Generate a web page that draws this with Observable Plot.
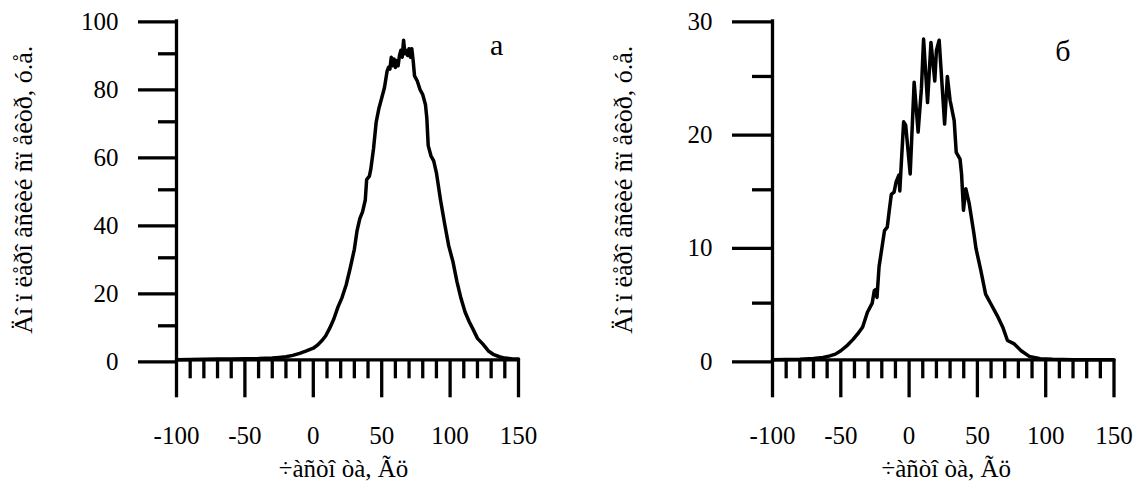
<!DOCTYPE html>
<html>
<head>
<meta charset="utf-8">
<script src="https://cdn.jsdelivr.net/npm/d3@7"></script>
<script src="https://cdn.jsdelivr.net/npm/@observablehq/plot@0.6"></script>
<style>
  html, body { margin: 0; padding: 0; background: #fff; }
  #wrap { display: flex; width: 1142px; height: 491px; }
  #wrap svg [aria-label$="axis tick"] { stroke-width: 3.3px; }
</style>
</head>
<body>
<div id="wrap"></div>
<script>
// ---- data ----
const xTicksMajor = [-100, -50, 0, 50, 100, 150];
const xTicksMinor = [-90, -80, -70, -60, -40, -30, -20, -10, 10, 20, 30, 40, 60, 70, 80, 90, 110, 120, 130, 140];

const yTitle = "Äî ï ëåðî âñêèé ñï åêòð, ó.å.";
const xTitle = "÷àñòî òà, Ãö";

// panel а
const aYMajor = [0, 20, 40, 60, 80, 100];
const aYMinor = [10, 30, 50, 70, 90];
const aX = [-100, -90, -80, -70, -60, -50, -40, -30, -25, -20, -15, -10, -5, 0, 3, 6, 9, 12, 15, 18, 21, 24, 27, 30, 32, 34, 36, 38, 39, 41, 42, 44, 46, 48, 50, 52, 54, 55, 56, 57, 58, 59, 60, 61, 62, 63, 64, 65, 66, 67, 68, 69, 70, 71, 72, 73, 74, 76, 78, 80, 82, 83, 84, 86, 88, 90, 93, 96, 99, 102, 105, 108, 111, 114, 117, 120, 124, 128, 132, 136, 140, 145, 150];
const aY = [0.0, 0.1, 0.15, 0.2, 0.25, 0.3, 0.35, 0.5, 0.7, 0.9, 1.3, 1.9, 2.6, 3.4, 4.3, 5.5, 7, 9.3, 12, 15.5, 18.3, 22, 27, 32.5, 38, 41.5, 43.5, 47, 53, 54, 56, 62, 70, 74, 77, 80, 85, 86, 85.5, 89, 86.5, 88.5, 86, 88, 86.5, 89.5, 91, 89, 94, 90, 91, 89.5, 91.5, 89, 91.5, 88, 83.5, 82, 79.5, 78, 75, 71, 63, 60, 58.5, 55, 47, 40, 33.5, 29, 23, 18, 14, 11.2, 8.8, 6.3, 4.6, 2.6, 1.5, 0.9, 0.5, 0.3, 0.2];
const aLetter = [{x: 134, y: 92.5, t: "а"}];

// panel б
const bYMajor = [0, 10, 20, 30];
const bYMinor = [5, 15, 25];
const bX = [-100, -90, -80, -70, -63, -58, -54, -50, -45, -41, -37.5, -34, -30.5, -27, -25.5, -24.5, -23.5, -22, -19.5, -18, -16, -14.5, -13, -11, -9.5, -7.5, -6.8, -6, -4, -2.5, 0.8, 3.7, 6.6, 9, 10.6, 13.5, 16, 18.8, 20, 22, 26, 28, 30, 33, 34.5, 37.3, 38.4, 39.8, 41.5, 44, 47.5, 49, 52.5, 56, 60, 64.5, 68.5, 72, 77, 82, 88, 96, 105, 120, 150];
const bY = [0, 0.02, 0.05, 0.12, 0.2, 0.35, 0.5, 0.8, 1.3, 1.8, 2.3, 2.9, 4.2, 5.0, 6.1, 6.2, 5.5, 8.2, 10.2, 11.4, 11.7, 13.2, 14.6, 14.8, 15.7, 16.3, 14.9, 16.7, 21, 20.7, 16.4, 24.5, 20.1, 23.9, 28.3, 22.7, 28, 24.6, 27.3, 28.2, 20.8, 25, 22.9, 21.1, 18.3, 17.7, 16.4, 13.2, 15.1, 13.8, 11.1, 9.8, 7.9, 5.8, 4.9, 3.9, 2.9, 1.7, 1.4, 0.8, 0.3, 0.1, 0.04, 0.01, 0];
const bLetter = [{x: 112.5, y: 27.2, t: "б"}];

// ---- chart ----
const FONT = "'Liberation Serif', 'Times New Roman', serif";
const fmt = d => String(d);

function panel({xs, ys, yMax, yMajor, yMinor, majorSize, minorSize, letter, marginLeft, marginRight, yTitleDx, xTitleDx}) {
  const rows = xs.map((x, i) => ({x, y: ys[i]}));
  return Plot.plot({
    width: 571,
    height: 491,
    marginLeft,
    marginRight,
    marginTop: 19.3,
    marginBottom: 131.7,
    style: {fontFamily: FONT, fontSize: "25px", color: "#000", background: "#fff", overflow: "visible"},
    x: {domain: [-100, 150]},
    y: {domain: [0, yMax]},
    marks: [
      Plot.axisX(xTicksMajor, {tickSize: 38, tickPadding: 28, strokeWidth: 3.3, label: null, fontSize: 25, fill: "#000", tickFormat: fmt}),
      Plot.axisX(xTicksMinor, {tickSize: 19, tickFormat: () => "", strokeWidth: 3.3, label: null}),
      Plot.axisY(yMajor, {tickSize: majorSize, tickPadding: 20, strokeWidth: 3.3, label: null, fontSize: 25, dy: 2, fill: "#000", tickFormat: fmt}),
      Plot.axisY(yMinor, {tickSize: minorSize, tickFormat: () => "", strokeWidth: 3.3, label: null}),
      Plot.ruleY([0], {strokeWidth: 3.3, stroke: "#000"}),
      Plot.ruleX([-100], {strokeWidth: 3.3, stroke: "#000"}),
      Plot.line(rows, {x: "x", y: "y", stroke: "#000", strokeWidth: 3.5, strokeLinejoin: "round"}),
      Plot.text(letter, {x: "x", y: "y", text: "t", fontSize: 30, fill: "#000"}),
      Plot.text([yTitle], {frameAnchor: "left", textAnchor: "middle", dx: yTitleDx, rotate: -90, fontSize: 26, fill: "#000"}),
      Plot.text([xTitle], {frameAnchor: "bottom", textAnchor: "middle", dx: xTitleDx, dy: 117, fontSize: 25, fill: "#000"})
    ]
  });
}

const wrap = document.getElementById("wrap");
wrap.append(panel({xs: aX, ys: aY, yMax: 100, yMajor: aYMajor, yMinor: aYMinor, majorSize: 38, minorSize: 18,
  letter: aLetter, marginLeft: 176, marginRight: 53, yTitleDx: -153, xTitleDx: -4}));
wrap.append(panel({xs: bX, ys: bY, yMax: 30, yMajor: bYMajor, yMinor: bYMinor, majorSize: 40, minorSize: 20,
  letter: bLetter, marginLeft: 201, marginRight: 28.5, yTitleDx: -149, xTitleDx: 3}));
</script>
</body>
</html>
